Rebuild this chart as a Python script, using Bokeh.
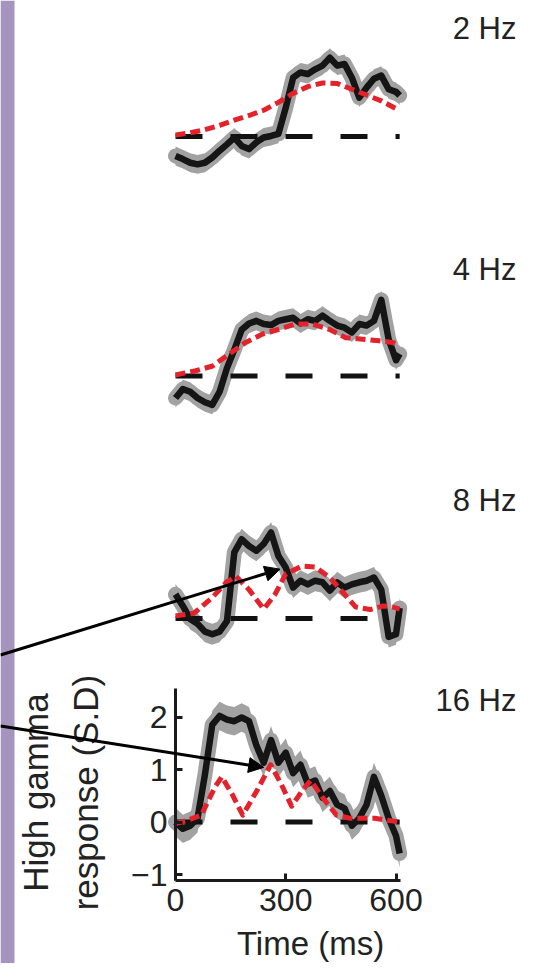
from math import pi
from bokeh.plotting import figure
from bokeh.models import (Range1d, LinearAxis, FixedTicker, Arrow, NormalHead,
                          Label, BoxAnnotation)
from bokeh.embed import file_html
from bokeh.resources import INLINE

# ---------------- data ----------------
time_ms = [0, 20, 40, 60, 80, 100, 120, 140, 160, 180, 200, 220, 240, 260, 280,
           300, 320, 340, 360, 380, 400, 420, 440, 460, 480, 500, 520, 540, 560,
           580, 600, 610]

resp_2hz = [-0.37, -0.43, -0.50, -0.53, -0.50, -0.40, -0.27, -0.15, -0.02, -0.18,
            -0.24, -0.11, -0.02, 0.01, 0.05, 0.55, 1.12, 1.22, 1.19, 1.28, 1.35,
            1.50, 1.35, 1.38, 1.12, 0.74, 0.93, 1.10, 1.16, 0.90, 0.85, 0.78]
resp_4hz = [-0.42, -0.25, -0.30, -0.42, -0.50, -0.55, -0.30, 0.15, 0.50, 0.88,
            1.00, 1.05, 0.99, 0.97, 1.05, 1.08, 1.11, 1.00, 1.08, 1.05, 1.15,
            1.05, 0.96, 0.92, 0.83, 0.99, 0.96, 1.05, 1.45, 0.70, 0.30, 0.42]
resp_8hz = [0.46, 0.24, -0.01, -0.10, -0.25, -0.30, -0.25, -0.05, 1.26, 1.51,
            1.38, 1.29, 1.42, 1.64, 1.19, 0.97, 0.59, 0.72, 0.65, 0.72, 0.69,
            0.53, 0.69, 0.59, 0.65, 0.69, 0.72, 0.78, 0.55, -0.35, -0.30, 0.20]
resp_16hz = [0.00, -0.13, -0.07, 0.07, 0.90, 1.85, 2.02, 1.95, 1.92, 1.99, 1.92,
             1.46, 1.13, 1.56, 1.13, 1.32, 0.93, 1.09, 0.73, 0.79, 0.46, 0.59,
             0.33, 0.26, -0.07, 0.07, 0.33, 0.86, 0.50, 0.07, -0.26, -0.60]

se_2hz, se_4hz, se_8hz, se_16hz = 0.18, 0.18, 0.2, 0.27

model_2hz_t = [0, 40, 80, 120, 160, 200, 240, 280, 320, 360, 400, 440, 480, 520,
               560, 600, 610]
model_2hz = [0.03, 0.07, 0.13, 0.21, 0.31, 0.40, 0.50, 0.65, 0.82, 0.95, 1.02,
             1.01, 0.90, 0.79, 0.68, 0.53, 0.49]
model_4hz_t = [0, 55, 101, 146, 191, 237, 282, 327, 373, 418, 463, 509, 554,
               590, 610]
model_4hz = [0.02, 0.10, 0.19, 0.42, 0.64, 0.80, 0.89, 0.99, 0.99, 0.89, 0.73,
             0.70, 0.67, 0.64, 0.58]
model_8hz_t = [0, 50, 100, 140, 165, 200, 240, 270, 300, 345, 380, 420, 455,
               490, 530, 565, 590, 610]
model_8hz = [0.05, 0.10, 0.40, 0.70, 0.80, 0.55, 0.18, 0.45, 0.85, 1.00, 0.98,
             0.78, 0.50, 0.22, 0.17, 0.24, 0.22, 0.18]
model_16hz_t = [0, 32, 70, 107, 126, 154, 183, 221, 259, 287, 316, 344, 368,
                401, 438, 476, 542, 610]
model_16hz = [-0.03, 0.03, 0.13, 0.66, 0.86, 0.53, 0.13, 0.59, 1.09, 0.73, 0.30,
              0.59, 0.79, 0.46, 0.13, 0.07, 0.07, 0.00]

panel_labels = ["2 Hz", "4 Hz", "8 Hz", "16 Hz"]
x_ticks = [0, 300, 600]
y_ticks = [-1, 0, 1, 2]

# ---------------- layout ----------------
W, H = 529, 963
PX_PER_MS = 0.3675
PX_PER_UNIT = 52.5
X0 = 175.0                      # canvas x of t = 0
ZERO_Y = {"hz2": 136.0, "hz4": 375.5, "hz8": 618.0, "default": 821.5}

def yr(z):
    return Range1d(-(H - z) / PX_PER_UNIT, z / PX_PER_UNIT)

p = figure(width=W, height=H, output_backend="svg", toolbar_location=None,
           x_range=Range1d(-X0 / PX_PER_MS, (W - X0) / PX_PER_MS),
           y_range=yr(ZERO_Y["default"]),
           x_axis_location=None, y_axis_location=None,
           min_border=0, min_border_left=0, min_border_right=0,
           min_border_top=0, min_border_bottom=0)
p.extra_y_ranges = {k: yr(v) for k, v in ZERO_Y.items() if k != "default"}
p.outline_line_color = None
p.background_fill_color = "white"
p.border_fill_color = "white"
p.grid.visible = False

p.add_layout(BoxAnnotation(left=0, right=14, left_units="screen", right_units="screen",
                           fill_color="#a494be", fill_alpha=1.0, line_color=None))

FONT = "Liberation Sans"
TXT = "#222222"
GRAY = "#a2a2a2"
RED = "#e3222b"

panels = [
    ("hz2", resp_2hz, se_2hz, model_2hz_t, model_2hz),
    ("hz4", resp_4hz, se_4hz, model_4hz_t, model_4hz),
    ("hz8", resp_8hz, se_8hz, model_8hz_t, model_8hz),
    ("default", resp_16hz, se_16hz, model_16hz_t, model_16hz),
]
label_y = {"hz2": 2.06, "hz4": 2.03, "hz8": 2.25, "default": 2.31}

for (rn, resp, se, mt, mv), lab in zip(panels, panel_labels):
    lo = [v - se for v in resp]
    hi = [v + se for v in resp]
    p.varea(x=time_ms, y1=lo, y2=hi, fill_color=GRAY, y_range_name=rn)
    p.line(time_ms, resp, line_color=GRAY, line_width=15, line_join="round",
           line_cap="round", y_range_name=rn)
    p.segment(x0=[time_ms[0]], y0=[0], x1=[time_ms[-1]], y1=[0],
              line_color="#111111", line_width=5, line_dash="27 28",
              y_range_name=rn)
    p.line(time_ms, resp, line_color="#151515", line_width=6.5, line_join="round",
           y_range_name=rn)
    p.line(mt, mv, line_color=RED, line_width=5, line_dash="10 5",
           line_join="round", y_range_name=rn)
    p.add_layout(Label(x=(524 - 8 - X0) / PX_PER_MS, y=label_y[rn], text=lab,
                       y_range_name=rn, text_align="right", text_baseline="middle",
                       text_font=FONT, text_font_size="31px", text_color=TXT))

# axes of the 16 Hz panel
xaxis = LinearAxis(fixed_location=-1.12, bounds=(0, 612),
                   ticker=FixedTicker(ticks=x_ticks))
yaxis = LinearAxis(fixed_location=0, bounds=(-1.12, 2.55),
                   ticker=FixedTicker(ticks=y_ticks),
                   major_label_overrides={-1: "\u22121"})
for ax in (xaxis, yaxis):
    ax.axis_line_width = 3
    ax.axis_line_color = "#1a1a1a"
    ax.major_tick_in = 7
    ax.major_tick_out = 0
    ax.major_tick_line_width = 3
    ax.major_tick_line_color = "#1a1a1a"
    ax.minor_tick_line_color = None
    ax.major_label_text_font = FONT
    ax.major_label_text_font_size = "32px"
    ax.major_label_text_color = TXT
xaxis.major_label_standoff = 8
yaxis.major_label_standoff = 8
p.add_layout(xaxis, "below")
p.add_layout(yaxis, "left")

p.add_layout(Label(x=(318 - 8 - X0) / PX_PER_MS, y=-2.66, text="Time (ms)",
                   text_align="center", text_baseline="bottom",
                   text_font=FONT, text_font_size="33px", text_color=TXT))
p.add_layout(Label(x=(43 - 8 - X0) / PX_PER_MS, y=0.56, text="High gamma",
                   angle=pi / 2, text_align="center", text_baseline="middle",
                   text_font=FONT, text_font_size="35px", text_color=TXT))
p.add_layout(Label(x=(93 - 8 - X0) / PX_PER_MS, y=0.56, text="response (S.D)",
                   angle=pi / 2, text_align="center", text_baseline="middle",
                   text_font=FONT, text_font_size="35px", text_color=TXT))

# arrows
arrow1 = dict(x0=-476.2, y0=-0.695, x1=284.4, y1=0.94, rn="hz8")
arrow2 = dict(x0=-476.2, y0=1.83, x1=240.0, y1=1.04, rn="default")
for a in (arrow1, arrow2):
    p.add_layout(Arrow(x_start=a["x0"], y_start=a["y0"], x_end=a["x1"], y_end=a["y1"],
                       y_range_name=a["rn"], line_width=3, line_color="black",
                       end=NormalHead(size=15, fill_color="black", line_color="black",
                                      line_width=1)))

open("out.html", "w").write(file_html(p, INLINE))
